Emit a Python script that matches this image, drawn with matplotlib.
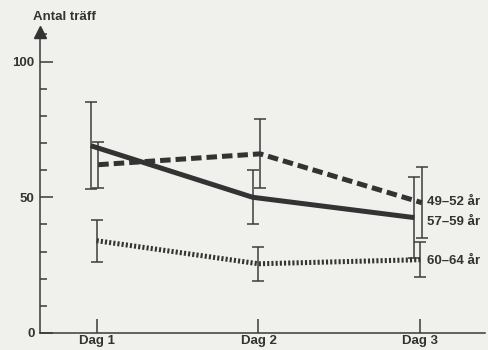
import matplotlib
matplotlib.use("Agg")
import matplotlib.pyplot as plt
from matplotlib.ticker import MultipleLocator, FixedLocator

# Data: number of hits per day for three age groups (mean and spread)
days = ["Dag 1", "Dag 2", "Dag 3"]
labels = ["49–52 år", "57–59 år", "60–64 år"]
hits_49_52 = [62, 66, 48]
err_49_52 = [8.5, 12.7, 13]
hits_57_59 = [69, 50, 42.5]
err_57_59 = [16, 10, 15]
hits_60_64 = [34, 25.5, 27]
err_60_64 = [7.7, 6.3, 6.5]
y_major = [0, 50, 100]

plt.rcParams["font.family"] = ["Liberation Sans", "DejaVu Sans"]
plt.rcParams["font.weight"] = "bold"

BG = "#f0f0ec"
INK = "#333333"

fig = plt.figure(figsize=(4.89, 3.5), dpi=100, facecolor=BG)
ax = fig.add_axes([0.0818, 0.0486, 0.910, 0.8608])
ax.set_facecolor(BG)

x = [1, 2, 3]
series = [
    (hits_49_52, err_49_52, (0, (2.1, 1.0)), 0.01, labels[0]),
    (hits_57_59, err_57_59, "-", -0.036, labels[1]),
    (hits_60_64, err_60_64, (0, (0.42, 0.42)), 0.0, labels[2]),
]

for vals, errs, ls, dx, lab in series:
    xs = [xi + dx for xi in x]
    ax.plot(xs, vals, color=INK, lw=3.6, linestyle=ls, solid_capstyle="butt",
            dash_capstyle="butt", zorder=3)
    ax.errorbar(xs, vals, yerr=errs, fmt="none", ecolor="#3c3c3c",
                elinewidth=1.1, capsize=4, capthick=1.1, zorder=2)

# Group labels to the right of the last day
label_y = [48.2, 40.8, 26.5]
for lab, ly in zip(labels, label_y):
    ax.text(3.04, ly, lab, ha="left", va="center", fontsize=9.5,
            fontweight="bold", color=INK)

ax.set_xlim(0.65, 3.40)
ax.set_ylim(0, 111)

for s in ["top", "right"]:
    ax.spines[s].set_visible(False)
for s in ["left", "bottom"]:
    ax.spines[s].set_color("#3a3a3a")
    ax.spines[s].set_linewidth(1.1)

ax.xaxis.set_major_locator(FixedLocator(x))
ax.set_xticklabels(days)
ax.yaxis.set_major_locator(FixedLocator(y_major))
ax.yaxis.set_minor_locator(MultipleLocator(10))
ax.set_yticklabels([str(v) for v in y_major])

ax.tick_params(axis="x", direction="in", length=10, width=1.1, color="#3a3a3a",
               pad=1.5, labelsize=9.5, labelcolor=INK)
ax.tick_params(axis="y", which="major", direction="in", length=9.4, width=1.1,
               color="#3a3a3a", pad=4, labelsize=9.5, labelcolor=INK)
ax.tick_params(axis="y", which="minor", direction="in", length=5, width=1.1,
               color="#3a3a3a")

# Arrowhead on the y axis and its title
ax.plot(0, 1.0, marker="^", markersize=8, color="#333333", transform=ax.transAxes,
        clip_on=False, zorder=5)
fig.text(33 / 489, 1 - 17 / 350, "Antal träff", ha="left", va="center",
         fontsize=9.5, fontweight="bold", color=INK)

fig.savefig("out.png", dpi=100, facecolor=BG)
